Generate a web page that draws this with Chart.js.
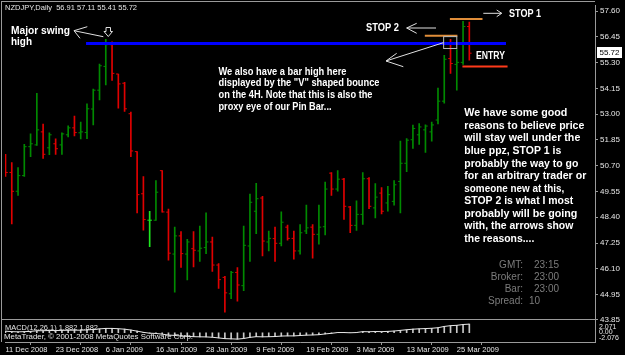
<!DOCTYPE html>
<html>
<head>
<meta charset="utf-8">
<script src="https://cdn.jsdelivr.net/npm/chart.js@4.4.1/dist/chart.umd.min.js"></script>
<style>
html,body{margin:0;padding:0;background:#000;overflow:hidden}
#wrap{position:relative;width:625px;height:355px}
canvas{display:block}
</style>
</head>
<body>
<div id="wrap"><canvas id="c" width="625" height="355"></canvas></div>
<script>
// ---------------- DATA ----------------
const symbolTitle = 'NZDJPY,Daily  56.91 57.11 55.41 55.72';
const dateLabels = ['11 Dec 2008','23 Dec 2008','6 Jan 2009','16 Jan 2009','28 Jan 2009','9 Feb 2009','19 Feb 2009','3 Mar 2009','13 Mar 2009','25 Mar 2009'];
const dateTickBars = [0, 8, 16, 24, 32, 40, 48, 56, 64, 72];
const priceTicks = [57.60, 56.45, 55.30, 54.15, 53.00, 51.85, 50.70, 49.55, 48.40, 47.25, 46.10, 44.95, 43.85];
const macdTickLabels = ['2.071', '0.00', '-2.076'];

const opens  = [50.48,50.40,49.56,50.26,51.55,51.63,52.21,51.50,51.68,51.63,
                52.08,52.39,52.17,52.18,53.23,54.07,55.13,56.10,54.79,54.38,
                53.02,51.33,49.45,48.27,48.27,50.48,48.63,46.76,47.57,46.76,
                47.00,46.90,47.05,47.30,46.27,45.72,44.99,45.94,45.35,47.12,
                48.67,49.26,47.30,47.45,47.24,47.96,47.46,46.90,47.79,47.96,
                47.64,47.98,50.37,49.66,50.10,48.86,48.04,48.53,50.12,48.82,
                49.48,49.04,49.11,50.00,50.81,51.86,52.08,52.30,52.21,52.74,
                53.58,55.48,55.22,55.31,56.91];
const highs  = [51.21,50.84,50.62,51.66,52.12,53.93,52.56,52.17,51.90,52.17,
                52.48,52.92,52.65,53.46,54.12,55.23,56.34,56.23,54.79,54.42,
                53.09,51.33,50.22,48.67,50.04,50.48,48.77,47.96,47.76,47.42,
                47.76,48.01,48.60,47.52,46.34,45.77,45.99,46.16,48.01,49.44,
                49.92,49.33,47.79,47.96,48.64,48.05,47.79,48.08,48.94,48.08,
                48.94,49.97,50.40,50.48,50.14,48.89,49.14,50.40,50.17,49.90,
                49.73,49.78,50.04,51.80,51.91,52.51,52.58,52.53,52.65,54.16,
                55.62,56.34,55.88,57.14,57.11];
const lows   = [50.22,48.10,49.38,50.22,51.10,51.61,51.03,51.19,51.21,51.21,
                51.99,52.03,51.90,51.91,52.52,53.64,54.30,54.51,53.27,53.12,
                51.10,48.60,47.83,47.09,48.26,48.63,46.49,45.06,46.16,45.61,
                46.19,46.43,46.78,45.99,45.23,44.17,44.77,44.66,45.13,46.43,
                47.67,46.68,46.90,46.43,47.12,47.38,46.53,46.76,47.67,46.58,
                47.20,47.61,49.38,49.56,48.30,47.71,47.82,48.08,48.79,48.37,
                48.55,48.67,48.94,48.60,50.44,51.47,51.65,51.29,51.80,52.56,
                53.49,54.82,54.07,55.22,55.41];
const closes = [50.40,49.56,50.26,51.55,51.68,52.30,51.21,52.08,51.46,52.12,
                52.39,52.18,52.21,53.24,54.07,55.16,56.10,54.82,54.35,53.24,
                51.36,49.41,48.30,48.27,49.52,48.64,46.80,47.57,46.78,47.30,
                46.93,47.02,47.30,46.27,45.62,45.03,45.94,45.38,47.15,49.07,
                49.23,47.34,47.46,47.24,48.18,47.46,46.90,47.71,47.93,47.64,
                47.96,49.66,49.66,50.10,48.89,48.04,48.53,50.12,48.89,49.30,
                48.67,49.41,49.85,50.81,51.84,52.36,52.43,52.47,52.52,53.58,
                55.45,55.26,55.31,56.91,55.72];
// MACD(12,26,1): main value (signal with period 1 equals it)
const macdMain = [0.35,0.25,0.20,0.25,0.30,0.45,0.45,0.50,0.48,0.52,
                  0.55,0.57,0.56,0.62,0.72,0.85,0.95,0.95,0.88,0.78,
                  0.60,0.35,0.10,-0.10,-0.15,-0.30,-0.50,-0.58,-0.72,-0.78,
                  -0.85,-0.88,-0.90,-0.98,-1.12,-1.28,-1.32,-1.38,-1.25,-1.00,
                  -0.85,-0.88,-0.86,-0.82,-0.72,-0.68,-0.68,-0.60,-0.52,-0.48,
                  -0.42,-0.25,-0.12,0.05,0.05,0.00,0.05,0.25,0.22,0.28,
                  0.25,0.30,0.38,0.52,0.66,0.78,0.86,0.92,0.98,1.10,
                  1.38,1.55,1.62,1.80,1.882];
const macdTitle = 'MACD(12,26,1) 1.882 1.882';
const copyrightText = 'MetaTrader, \u00A9 2001-2008 MetaQuotes Software Corp.';

// annotation levels (price) and spans (bar index)
const ppzLevel = 56.15,  ppzSpan = [12.85, 79.85];
const stop1Level = 57.25, stop1Span = [70.9, 76.1];
const stop2Level = 56.50, stop2Span = [66.9, 72.1];
const entryLevel = 55.13, entrySpan = [72.9, 80.1];
const pinBox = {from: 69.9, to: 72.0, top: 56.46, bottom: 55.93};

const midText = ['We also have a bar high here', 'displayed by the "V" shaped bounce', 'on the 4H. Note that this is also the', 'proxy eye of our Pin Bar...'];
const sideText = ['We have some good', 'reasons to believe price', 'will stay well under the', 'blue ppz, STOP 1 is', 'probably the way to go', 'for an arbitrary trader or', 'someone new at this,', 'STOP 2 is what I most', 'probably will be going', 'with, the arrows show', 'the reasons....'];
const infoLabels = ['GMT:', 'Broker:', 'Bar:', 'Spread:'];
const infoValues = ['23:15', '23:00', '23:00', '10'];

// ---------------- STYLE ----------------
const UP = '#008a00', DOWN = '#e00000', DOJI = '#1ee61e', AXIS = '#9a9a9a', TXT = '#e6e6e6';
const FONT = '"Liberation Sans", Arial, sans-serif';
const barColor = opens.map((o, i) => closes[i] > o ? UP : (closes[i] < o ? DOWN : DOJI));
const tickOffset = 0.19;

function fitText(ctx, s, x, y, font, color, width, align) {
  ctx.save();
  ctx.font = font; ctx.fillStyle = color; ctx.textBaseline = 'middle'; ctx.textAlign = 'left';
  const m = ctx.measureText(s).width;
  const sx = width ? width / m : 1;
  const x0 = align === 'right' ? x - m * sx : x;
  ctx.translate(x0, y); ctx.scale(sx, 1);
  ctx.fillText(s, 0, 0);
  ctx.restore();
}
function poly(ctx, pts, color, w, close) {
  ctx.beginPath(); ctx.moveTo(pts[0][0], pts[0][1]);
  for (let k = 1; k < pts.length; k++) ctx.lineTo(pts[k][0], pts[k][1]);
  if (close) ctx.closePath();
  ctx.strokeStyle = color; ctx.lineWidth = w; ctx.stroke();
}

const frame = {
  id: 'frame',
  afterDraw(chart) {
    const ctx = chart.ctx, a = chart.chartArea, ys = chart.scales.y;
    ctx.save();
    ctx.fillStyle = AXIS;
    ctx.fillRect(1, 1, a.right - 1, 1);
    ctx.fillRect(1, 1, 1, a.bottom - 1);
    ctx.fillRect(1, Math.round(ys.bottom) - 1, a.right - 1, 1);
    ctx.restore();
  }
};

const annotations = {
  id: 'annotations',
  afterDatasetsDraw(chart) {
    const ctx = chart.ctx, xs = chart.scales.x, ys = chart.scales.y, y2 = chart.scales.y2;
    const X = v => xs.getPixelForValue(v), Y = v => ys.getPixelForValue(v);
    ctx.save();
    const hline = (span, lvl, color, w) => poly(ctx, [[X(span[0]), Y(lvl)], [X(span[1]), Y(lvl)]], color, w);
    hline(ppzSpan, ppzLevel, '#0000ff', 3);
    hline(stop1Span, stop1Level, '#e08e3a', 2);
    hline(stop2Span, stop2Level, '#e08e3a', 2);
    hline(entrySpan, entryLevel, '#ff3a1a', 2);
    ctx.strokeStyle = '#b8b8b8'; ctx.lineWidth = 1;
    ctx.strokeRect(X(pinBox.from), Y(pinBox.top), X(pinBox.to) - X(pinBox.from), Y(pinBox.bottom) - Y(pinBox.top));

    const W = '#e0e0e0';
    poly(ctx, [[103.3, 36.7], [74, 30.7]], W, 1);
    poly(ctx, [[87.3, 26.7], [74, 30.7], [80, 38.3]], W, 1);
    poly(ctx, [[106, 27.5], [110.5, 27.5], [110.5, 31.5], [112.5, 31.5], [108.3, 36.5], [104, 31.5], [106, 31.5]], W, 1, true);
    poly(ctx, [[483.3, 13.3], [501.7, 13.3]], W, 1);
    poly(ctx, [[496.7, 10], [501.7, 13.3], [496.7, 16.7]], W, 1);
    poly(ctx, [[436, 28], [406.7, 28]], W, 1);
    poly(ctx, [[416.7, 23.3], [406.7, 28], [416.7, 33.3]], W, 1);
    poly(ctx, [[443.3, 42.7], [386, 61]], W, 1);
    poly(ctx, [[396.7, 53.3], [386, 61], [403.3, 66.7]], W, 1);

    const B11 = 'bold 11px ' + FONT, B10 = 'bold 10px ' + FONT;
    fitText(ctx, 'Major swing', 11, 30.5, B11, '#fff', 59);
    fitText(ctx, 'high', 11, 42, B11, '#fff', 21);
    fitText(ctx, 'STOP 2', 366, 27.5, B11, '#fff', 33);
    fitText(ctx, 'STOP 1', 509, 14, B11, '#fff', 32);
    fitText(ctx, 'ENTRY', 476, 56, B11, '#fff', 29);
    const midW = [128, 161, 154, 113];
    midText.forEach((s, k) => fitText(ctx, s, 218.5, 72 + k * 11.7, B10, '#fff', midW[k]));
    const sideW = [103, 120, 116, 97, 114, 122, 100, 109, 113, 109, 70];
    sideText.forEach((s, k) => fitText(ctx, s, 464.3, 113.3 + k * 12.57, B11, '#fff', sideW[k]));
    const R10 = '10px ' + FONT;
    const infoY = [265.7, 277.7, 289.7, 301.3];
    const infoX = [534, 534, 534, 529];
    infoLabels.forEach((s, k) => {
      fitText(ctx, s, 523, infoY[k], R10, '#7c7c7c', null, 'right');
      fitText(ctx, infoValues[k], infoX[k], infoY[k], R10, '#7c7c7c');
    });

    fitText(ctx, symbolTitle, 5, 8, '8px ' + FONT, TXT, 132);
    fitText(ctx, macdTitle, 5, 327.5, '7.5px ' + FONT, TXT, 93);
    fitText(ctx, copyrightText, 4, 336.5, '7.5px ' + FONT, TXT, 189);

    // current price box
    const last = closes[closes.length - 1];
    const yp = Y(last);
    ctx.fillStyle = '#ffffff';
    ctx.fillRect(597, Math.round(yp) - 6, 25, 11);
    ctx.textAlign = 'center'; ctx.textBaseline = 'middle';
    ctx.font = '8px ' + FONT; ctx.fillStyle = '#000';
    ctx.fillText(last.toFixed(2), 609.5, Math.round(yp) - 0.5);

    // MACD axis labels (MT4 style: top, middle, bottom)
    ctx.font = '7px ' + FONT; ctx.fillStyle = TXT; ctx.textAlign = 'left';
    ctx.textBaseline = 'top'; ctx.fillText(macdTickLabels[0], 599, y2.getPixelForValue(2.071));
    ctx.textBaseline = 'middle'; ctx.fillText(macdTickLabels[1], 599, y2.getPixelForValue(0) - 1);
    ctx.textBaseline = 'bottom'; ctx.fillText(macdTickLabels[2], 599, y2.bottom);
    ctx.restore();
  }
};

const idx = opens.map((_, i) => i);
const wickData = idx.map(i => ({x: i, y: [lows[i], highs[i]]}));
const openData = idx.map(i => ({x: i - tickOffset, y: opens[i]}));
const closeData = idx.map(i => ({x: i + tickOffset, y: closes[i]}));
const macdBars = idx.map(i => ({x: i, y: macdMain[i]}));

new Chart(document.getElementById('c'), {
  type: 'scatter',
  data: {
    datasets: [
      {type: 'bar', data: wickData, xAxisID: 'x', yAxisID: 'y', backgroundColor: barColor, borderWidth: 0,
       barThickness: 1, maxBarThickness: 1, grouped: false, order: 3},
      {type: 'scatter', data: openData, xAxisID: 'x', yAxisID: 'y', pointStyle: 'line', pointRadius: 1.1,
       pointBorderWidth: 1, pointBorderColor: barColor, borderColor: barColor, order: 2},
      {type: 'scatter', data: closeData, xAxisID: 'x', yAxisID: 'y', pointStyle: 'line', pointRadius: 1.1,
       pointBorderWidth: 1, pointBorderColor: barColor, borderColor: barColor, order: 2},
      {type: 'bar', data: macdBars, xAxisID: 'x', yAxisID: 'y2', backgroundColor: '#c8c8c8', borderWidth: 0,
       barThickness: 1, maxBarThickness: 1, grouped: false, order: 3},
      {type: 'line', data: macdBars, xAxisID: 'x', yAxisID: 'y2', borderColor: '#e8e8e8', borderWidth: 1,
       pointRadius: 0, tension: 0, fill: false, order: 1}
    ]
  },
  options: {
    responsive: false, animation: false, devicePixelRatio: 1, events: [],
    layout: {padding: {left: 2, top: 2, right: 0, bottom: 0}},
    plugins: {legend: {display: false}, tooltip: {enabled: false}},
    scales: {
      x: {
        type: 'linear', position: 'bottom', min: -0.08, max: 94.05, offset: false,
        afterBuildTicks: s => { s.ticks = dateTickBars.map(v => ({value: v})); },
        afterFit: s => { s.height = 13; s.paddingLeft = 0; s.paddingRight = 0; },
        ticks: {autoSkip: false, maxRotation: 0, minRotation: 0, align: 'start', padding: 0,
                color: TXT, font: {family: FONT, size: 7.5},
                callback: (v, i) => dateLabels[i]},
        grid: {drawOnChartArea: false, drawTicks: true, tickLength: 3, color: AXIS},
        border: {display: true, color: AXIS}
      },
      y: {
        type: 'linear', position: 'right', stack: 'panes', stackWeight: 318, weight: 0,
        min: 43.81, max: 57.87,
        afterBuildTicks: s => { s.ticks = priceTicks.map(v => ({value: v})); },
        afterFit: s => { s.width = 30; s.paddingTop = 0; s.paddingBottom = 0; },
        ticks: {padding: 2, color: TXT, font: {family: FONT, size: 8}, callback: v => Number(v).toFixed(2)},
        grid: {drawOnChartArea: false, drawTicks: true, tickLength: 3, color: AXIS},
        border: {display: true, color: AXIS}
      },
      y2: {
        type: 'linear', position: 'right', stack: 'panes', stackWeight: 22, weight: 0,
        min: -2.01, max: 2.74,
        afterFit: s => { s.width = 30; s.paddingTop = 0; s.paddingBottom = 0; },
        ticks: {display: false},
        grid: {display: false},
        border: {display: true, color: AXIS}
      }
    }
  },
  plugins: [frame, annotations]
});
</script>
</body>
</html>
